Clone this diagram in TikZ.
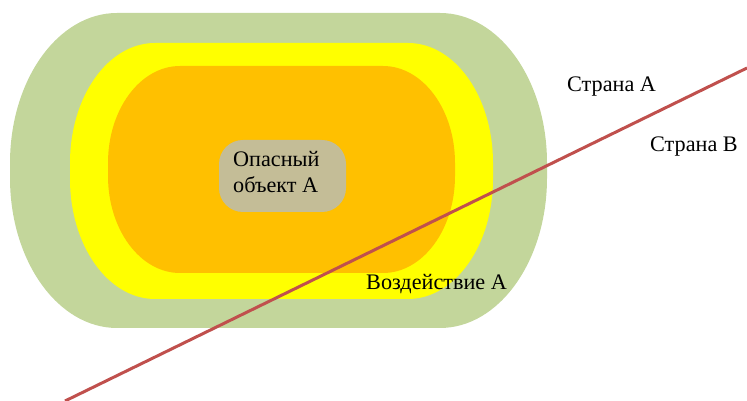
\documentclass[tikz,border=0pt]{standalone}
\usepackage{fontspec}
\setmainfont{Liberation Serif}
\definecolor{zoneC}{HTML}{C3D69B}
\definecolor{zoneB}{HTML}{FFFF00}
\definecolor{zoneA}{HTML}{FFC000}
\definecolor{objfill}{HTML}{C4BD97}
\definecolor{border}{HTML}{C0504D}
\newcommand\capsulezone[7]{% x0 x1 top bottom rx ry color
  \fill[#7] ({#1+#5},#3) -- ({#2-#5},#3)
    arc[start angle=90,end angle=0,x radius=#5,y radius=#6]
    -- (#2,{#4+#6})
    arc[start angle=0,end angle=-90,x radius=#5,y radius=#6]
    -- ({#1+#5},#4)
    arc[start angle=270,end angle=180,x radius=#5,y radius=#6]
    -- (#1,{#3-#6})
    arc[start angle=180,end angle=90,x radius=#5,y radius=#6]
    -- cycle;}
\begin{document}
\begin{tikzpicture}[x=1pt,y=1pt,
  lbl/.style={anchor=base west,inner sep=0pt,font=\fontsize{22.2}{26}\selectfont},
  objbox/.style={fill=objfill,rounded corners=24pt,minimum width=127pt,minimum height=72pt,inner sep=0pt},
  borderline/.style={draw=border,line width=3pt}]
\useasboundingbox (0,0) rectangle (747,401);
\capsulezone{10}{547}{388}{73}{107}{150}{zoneC}
\capsulezone{70}{493}{358}{102}{85}{120}{zoneB}
\capsulezone{108}{455}{335}{128}{72}{97}{zoneA}
\node[objbox] (obj) at (282.5,225) {};
\node[lbl,align=left] (objtext) at (233,208) {Опасный\\объект А};
\node[lbl] (cA) at (567,309) {Страна А};
\node[lbl] (cB) at (650,249) {Страна В};
\node[lbl] (imp) at (366,111) {Воздействие А};
\coordinate (l1) at (65,0);
\coordinate (l2) at (747,333);
\draw[borderline] (l1) -- (l2);
\end{tikzpicture}
\end{document}
